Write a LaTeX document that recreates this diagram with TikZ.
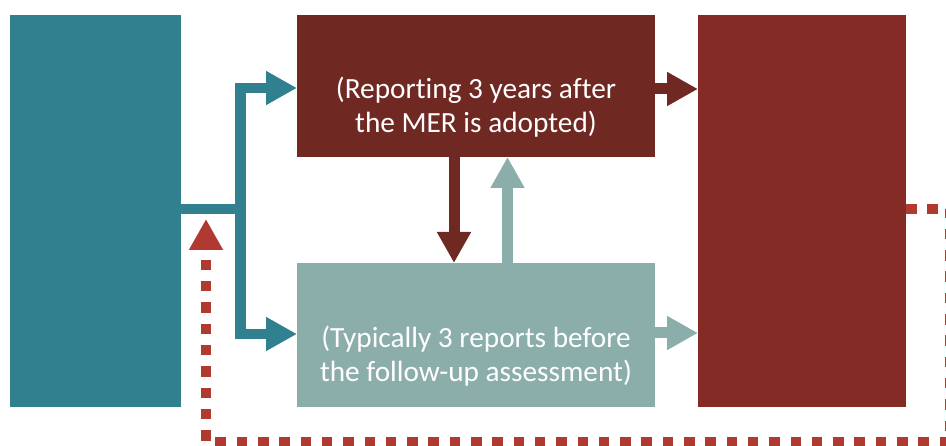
\documentclass[tikz,border=0pt]{standalone}
\usepackage{fontspec}
\setmainfont{Carlito}[Ligatures=NoCommon]
\usetikzlibrary{arrows.meta}
\definecolor{mertl}{RGB}{49,128,143}
\definecolor{enhred}{RGB}{112,40,35}
\definecolor{fuared}{RGB}{133,43,38}
\definecolor{regtl}{RGB}{140,174,171}
\definecolor{dotred}{RGB}{176,58,50}

\begin{document}
\begin{tikzpicture}[x=1pt, y=-1pt]
  \tikzset{box/.style={draw=none, inner sep=0pt, outer sep=0pt},
           label text/.style={text=white, align=center, inner sep=0pt,
                              font=\fontsize{29.3}{34}\selectfont},
           flow/.style={line width=11pt, draw=#1,
                        -{Triangle[width=32pt,length=31pt]}},
           loopline/.style={line width=10.5pt, draw=dotred,
                            dash pattern=on 10.5pt off 10.8pt,
                            -{Triangle[width=32pt,length=31pt]}}}
  \clip (0,0) rectangle (946,446);
  \node[box, fill=mertl, minimum width=171pt, minimum height=392pt] (mer) at (95.5,211) {};
  \node[box, fill=enhred, minimum width=358pt, minimum height=142pt] (enhanced) at (476,86) {};
  \node[box, fill=regtl, minimum width=358pt, minimum height=144pt] (regular) at (476,335) {};
  \node[box, fill=fuared, minimum width=208pt, minimum height=392pt] (fua) at (802,211) {};
  \node[label text] (enhtext) at (476,107) {(Reporting 3 years after\\the MER is adopted)};
  \node[label text] (regtext) at (476,356.5) {(Typically 3 reports before\\the follow-up assessment)};
  \coordinate (split) at (240.5,209);
  \coordinate (loopne) at (950,209);
  \coordinate (loopse) at (950,442);
  \coordinate (loopsw) at (206,442);
  \coordinate (loopend) at (206,219);
  \draw[line width=10.5pt, draw=mertl] (mer.east |- split) -- (split);
  \draw[flow=mertl, line width=10.5pt,
        {Triangle[width=32pt,length=31pt]}-{Triangle[width=32pt,length=31pt]}]
        ([yshift=-2pt]enhanced.west) -| (split) |- ([yshift=1pt]regular.west);
  \draw[flow=enhred] ([xshift=-22pt]enhanced.south) -- ([xshift=-22pt]regular.north);
  \draw[flow=regtl] ([xshift=31.5pt]regular.north) -- ([xshift=31.5pt]enhanced.south);
  \draw[flow=enhred] ([yshift=-3pt]enhanced.east) -- ([yshift=-3pt]enhanced.east -| fua.west);
  \draw[flow=regtl] ([yshift=2pt]regular.east) -- ([yshift=2pt]regular.east -| fua.west);
  \draw[loopline] (fua.east |- loopne) -- (loopne) -- (loopse) -- (loopsw) -- (loopend);
\end{tikzpicture}
\end{document}
